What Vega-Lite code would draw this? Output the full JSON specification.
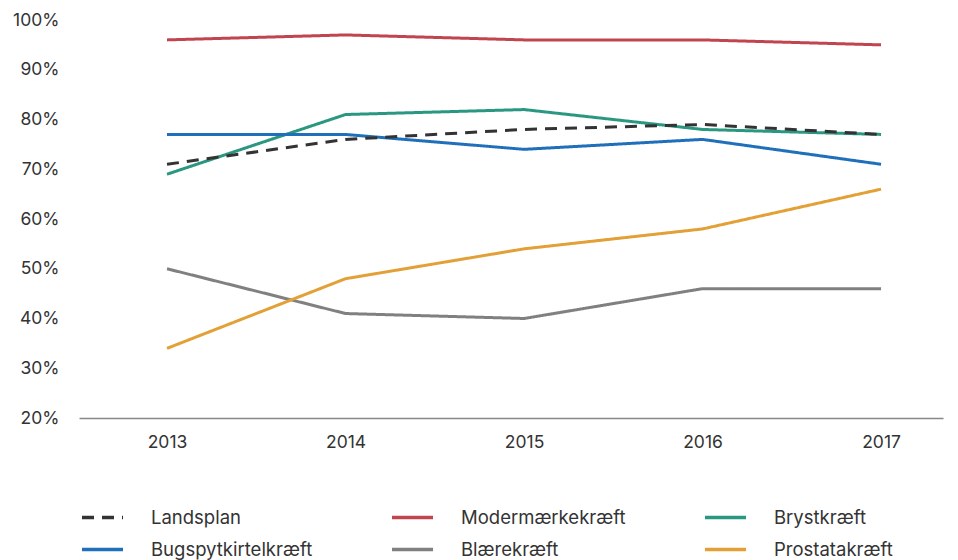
{
  "$schema": "https://vega.github.io/schema/vega-lite/v6.json",
  "width": 864,
  "height": 398,
  "autosize": {"type": "none"},
  "padding": {"left": 79, "top": 20, "right": 15, "bottom": 142},
  "background": "white",
  "config": {
    "view": {"stroke": null},
    "font": "Inter",
    "axis": {"labelFont": "Inter", "labelFontSize": 17.5, "labelColor": "#333333", "grid": false, "ticks": false},
    "legend": {"labelFont": "Inter", "labelFontSize": 18.5, "labelColor": "#333333", "labelLimit": 400}
  },
  "data": {
    "values": [
      {"year": 2013, "serie": "Modermærkekræft", "value": 96},
      {"year": 2014, "serie": "Modermærkekræft", "value": 97},
      {"year": 2015, "serie": "Modermærkekræft", "value": 96},
      {"year": 2016, "serie": "Modermærkekræft", "value": 96},
      {"year": 2017, "serie": "Modermærkekræft", "value": 95},
      {"year": 2013, "serie": "Brystkræft", "value": 69},
      {"year": 2014, "serie": "Brystkræft", "value": 81},
      {"year": 2015, "serie": "Brystkræft", "value": 82},
      {"year": 2016, "serie": "Brystkræft", "value": 78},
      {"year": 2017, "serie": "Brystkræft", "value": 77},
      {"year": 2013, "serie": "Bugspytkirtelkræft", "value": 77},
      {"year": 2014, "serie": "Bugspytkirtelkræft", "value": 77},
      {"year": 2015, "serie": "Bugspytkirtelkræft", "value": 74},
      {"year": 2016, "serie": "Bugspytkirtelkræft", "value": 76},
      {"year": 2017, "serie": "Bugspytkirtelkræft", "value": 71},
      {"year": 2013, "serie": "Blærekræft", "value": 50},
      {"year": 2014, "serie": "Blærekræft", "value": 41},
      {"year": 2015, "serie": "Blærekræft", "value": 40},
      {"year": 2016, "serie": "Blærekræft", "value": 46},
      {"year": 2017, "serie": "Blærekræft", "value": 46},
      {"year": 2013, "serie": "Prostatakræft", "value": 34},
      {"year": 2014, "serie": "Prostatakræft", "value": 48},
      {"year": 2015, "serie": "Prostatakræft", "value": 54},
      {"year": 2016, "serie": "Prostatakræft", "value": 58},
      {"year": 2017, "serie": "Prostatakræft", "value": 66},
      {"year": 2013, "serie": "Landsplan", "value": 71},
      {"year": 2014, "serie": "Landsplan", "value": 76},
      {"year": 2015, "serie": "Landsplan", "value": 78},
      {"year": 2016, "serie": "Landsplan", "value": 79},
      {"year": 2017, "serie": "Landsplan", "value": 77}
    ]
  },
  "mark": {"type": "line", "strokeWidth": 3},
  "encoding": {
    "x": {
      "field": "year",
      "type": "quantitative",
      "scale": {"domain": [2012.507, 2017.347], "nice": false, "zero": false},
      "axis": {
        "title": null,
        "values": [2013, 2014, 2015, 2016, 2017],
        "format": "d",
        "domainColor": "#888888",
        "domainWidth": 1.5,
        "labelPadding": 15
      }
    },
    "y": {
      "field": "value",
      "type": "quantitative",
      "scale": {"domain": [20, 100], "nice": false, "zero": false},
      "axis": {
        "title": null,
        "values": [20, 30, 40, 50, 60, 70, 80, 90, 100],
        "labelExpr": "datum.value + '%'",
        "domain": false,
        "labelPadding": 20
      }
    },
    "color": {
      "field": "serie",
      "type": "nominal",
      "scale": {
        "domain": ["Landsplan", "Modermærkekræft", "Brystkræft", "Bugspytkirtelkræft", "Blærekræft", "Prostatakræft"],
        "range": ["#333333", "#C1454F", "#2A9780", "#1F6FBA", "#808080", "#E2A036"]
      },
      "legend": {
        "title": null,
        "orient": "none",
        "legendX": 1,
        "legendY": 475,
        "direction": "horizontal",
        "columns": 3,
        "symbolType": "stroke",
        "symbolSize": 1681,
        "symbolStrokeWidth": 3.5,
        "labelOffset": 26,
        "rowPadding": -9,
        "columnPadding": 72,
        "gridAlign": "each"
      }
    },
    "strokeDash": {
      "field": "serie",
      "type": "nominal",
      "scale": {
        "domain": ["Landsplan", "Modermærkekræft", "Brystkræft", "Bugspytkirtelkræft", "Blærekræft", "Prostatakræft"],
        "range": [[12, 8], [1, 0], [1, 0], [1, 0], [1, 0], [1, 0]]
      },
      "legend": null
    }
  }
}
